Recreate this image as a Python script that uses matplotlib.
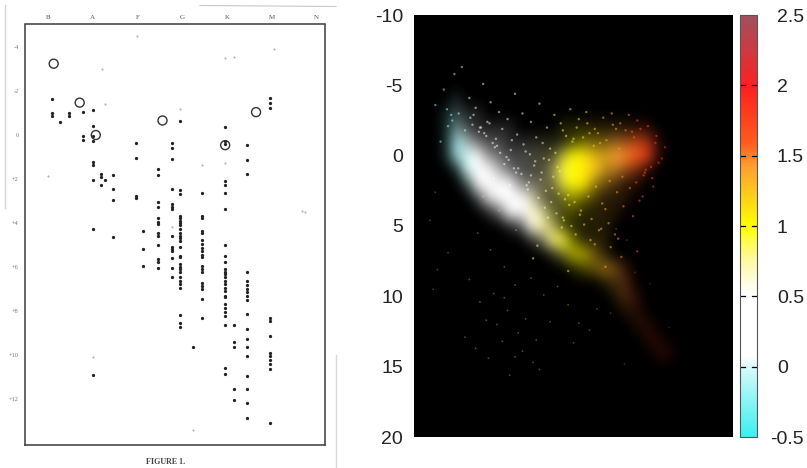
import matplotlib
matplotlib.use("Agg")
from matplotlib import pyplot as plt
from matplotlib.colors import LinearSegmentedColormap, Normalize
from matplotlib.cm import ScalarMappable
from matplotlib.lines import Line2D
import numpy as np

# Left panel: Russell's diagram, stars by spectral class column
class_labels = ["B", "A", "F", "G", "K", "M", "N"]
mag_ticks = [-4, -2, 0, 2, 4, 6, 8, 10, 12]
mag_labels = ["-4", "-2", "0", "+2", "+4", "+6", "+8", "+10", "+12"]

column_class = [0.10, 0.28, 0.48, 0.78, 1.00, 1.18, 1.28, 1.46, 1.97, 2.13, 2.46,
                2.77, 2.96, 3.25, 3.45, 3.96, 4.15, 4.45, 4.96]
column_mags = [
    [-1.63, -0.96, -0.86],
    [-0.58],
    [-1.0, -0.86],
    [-1.04, 0.05, 0.23],
    [-1.11, -0.39, 0.05, 0.3, 1.23, 1.36, 2.05, 4.31, 10.9],
    [1.77, 1.92, 2.27],
    [2.07],
    [1.84, 2.48, 2.98, 4.67],
    [0.4, 1.08, 2.78, 2.9],
    [4.39, 5.19, 5.96],
    [1.58, 1.84, 3.08, 3.31, 3.77, 3.96, 4.07, 4.46, 4.6, 5.02, 5.66, 5.78, 6.07],
    [0.4, 0.61, 1.1, 2.49, 3.17, 3.28, 3.4, 4.6, 5.1, 5.2, 5.31, 5.61, 6.07, 6.46],
    [-0.63, 2.52, 2.72, 3.7, 3.81, 3.92, 4.01, 4.11, 4.31, 4.49, 4.6, 4.7, 4.83, 5.1,
     5.51, 5.58, 5.89, 6.01, 6.12, 6.22, 6.49, 6.65, 6.8, 6.95, 8.19, 8.54, 8.72],
    [9.67],
    [2.67, 3.7, 3.81, 4.37, 4.46, 4.8, 4.98, 5.16, 5.28, 5.46, 5.58, 5.96, 6.12, 6.22,
     6.72, 6.87, 7.02, 7.48, 8.34],
    [-0.33, 0.28, 0.43, 2.1, 2.3, 2.67, 3.4, 5.02, 5.51, 5.81, 6.12, 6.22, 6.34, 6.49,
     6.65, 6.8, 6.95, 7.1, 7.33, 7.4, 7.71, 7.89, 8.04, 8.23, 8.65, 10.58, 10.86],
    [8.65, 9.4, 9.65, 11.55, 12.05],
    [0.48, 1.16, 1.77, 6.22, 6.65, 6.83, 7.02, 7.17, 7.33, 7.52, 8.13, 8.83, 9.27, 9.65,
     10.04, 10.98, 11.57, 12.18, 12.87],
    [-1.64, -1.42, -1.19, 8.34, 8.49, 9.17, 9.9, 10.05, 10.25, 10.43, 10.63, 13.08],
]
faint_class = [1.98, 3.96, 4.16, 5.04, 1.2, 1.28, 2.96, 3.45, 3.96, 2.77, 0.0, 1.0, 3.25, 5.68, 5.75]
faint_mag = [-4.48, -3.46, -3.54, -3.87, -2.98, -1.39, -1.16, 1.39, 1.31, 4.2, 1.9, 10.1, 13.4, 3.46, 3.5]
open_class = [0.13, 0.71, 1.07, 2.56, 3.96, 4.65]
open_mag = [-3.22, -1.45, 0.02, -0.64, 0.48, -1.02]

# Right panel: star density, 0-9, rows by magnitude, columns by B-V
bv_values = [-0.4, -0.3, -0.2, -0.1, 0.0, 0.1, 0.2, 0.3, 0.4, 0.5, 0.6, 0.7, 0.8, 0.9,
             1.0, 1.1, 1.2, 1.3, 1.4, 1.5, 1.6, 1.7, 1.8, 1.9, 2.0, 2.1, 2.2]
mag_rows = [-5, -4, -3, -2, -1, 0, 1, 2, 3, 4, 5, 6, 7, 8, 9, 10, 11, 12, 13, 14, 15]
density = [
    [0, 0, 0, 0, 0, 0, 0, 0, 0, 0, 0, 0, 0, 0, 0, 0, 0, 0, 0, 0, 0, 0, 0, 0, 0, 0, 0],
    [0, 0, 0, 1, 0, 0, 0, 0, 0, 0, 0, 0, 0, 0, 0, 0, 0, 0, 0, 0, 0, 0, 0, 0, 0, 0, 0],
    [0, 0, 1, 2, 1, 1, 0, 0, 0, 0, 0, 0, 0, 0, 0, 0, 0, 0, 0, 0, 0, 0, 0, 0, 0, 0, 0],
    [0, 0, 1, 4, 2, 1, 1, 1, 1, 0, 0, 0, 0, 1, 1, 1, 1, 1, 1, 1, 1, 1, 0, 0, 0, 0, 0],
    [0, 0, 1, 6, 5, 3, 2, 2, 1, 1, 1, 1, 1, 1, 2, 3, 3, 3, 4, 4, 5, 4, 1, 0, 0, 0, 0],
    [0, 0, 1, 6, 8, 7, 4, 3, 2, 2, 2, 2, 2, 5, 8, 7, 6, 6, 7, 8, 9, 6, 1, 0, 0, 0, 0],
    [0, 0, 0, 1, 7, 9, 9, 5, 3, 2, 2, 2, 4, 9, 9, 9, 7, 5, 5, 4, 3, 1, 0, 0, 0, 0, 0],
    [0, 0, 0, 0, 2, 7, 9, 9, 7, 4, 3, 3, 3, 6, 8, 7, 4, 3, 2, 1, 1, 0, 0, 0, 0, 0, 0],
    [0, 0, 0, 0, 0, 2, 6, 9, 9, 9, 6, 3, 2, 3, 4, 3, 2, 1, 1, 1, 0, 0, 0, 0, 0, 0, 0],
    [0, 0, 0, 0, 0, 0, 1, 3, 9, 9, 9, 6, 3, 2, 2, 1, 1, 1, 1, 0, 0, 0, 0, 0, 0, 0, 0],
    [0, 0, 0, 0, 0, 0, 0, 0, 1, 2, 8, 9, 5, 2, 1, 1, 1, 1, 0, 0, 0, 0, 0, 0, 0, 0, 0],
    [0, 0, 0, 0, 0, 0, 0, 0, 0, 0, 1, 3, 7, 7, 3, 1, 1, 1, 0, 0, 0, 0, 0, 0, 0, 0, 0],
    [0, 0, 0, 0, 0, 0, 0, 0, 0, 0, 0, 0, 1, 3, 5, 5, 3, 1, 0, 0, 0, 0, 0, 0, 0, 0, 0],
    [0, 0, 0, 0, 0, 0, 0, 0, 0, 0, 0, 0, 0, 0, 1, 2, 3, 4, 3, 1, 0, 0, 0, 0, 0, 0, 0],
    [0, 0, 0, 0, 0, 0, 0, 0, 0, 0, 0, 0, 0, 0, 0, 0, 0, 1, 2, 2, 0, 0, 0, 0, 0, 0, 0],
    [0, 0, 0, 0, 0, 0, 0, 0, 0, 0, 0, 0, 0, 0, 0, 0, 0, 0, 1, 2, 1, 0, 0, 0, 0, 0, 0],
    [0, 0, 0, 0, 0, 0, 0, 0, 0, 0, 0, 0, 0, 0, 0, 0, 0, 0, 0, 1, 1, 0, 0, 0, 0, 0, 0],
    [0, 0, 0, 0, 0, 0, 0, 0, 0, 0, 0, 0, 0, 0, 0, 0, 0, 0, 0, 0, 1, 1, 0, 0, 0, 0, 0],
    [0, 0, 0, 0, 0, 0, 0, 0, 0, 0, 0, 0, 0, 0, 0, 0, 0, 0, 0, 0, 0, 1, 1, 0, 0, 0, 0],
    [0, 0, 0, 0, 0, 0, 0, 0, 0, 0, 0, 0, 0, 0, 0, 0, 0, 0, 0, 0, 0, 0, 1, 1, 0, 0, 0],
    [0, 0, 0, 0, 0, 0, 0, 0, 0, 0, 0, 0, 0, 0, 0, 0, 0, 0, 0, 0, 0, 0, 0, 0, 0, 0, 0],
]

# Single stars in the haze around the main clumps
speck_bv = [-0.3, -0.22, -0.12, -0.05, 0.02, 0.08, 0.15, 0.22, 0.3, 0.38, 0.45, 0.52, 0.6,
            0.68, 0.75, 0.82, 0.9, 0.97, 1.05, 1.12, 1.2, 1.28, 1.36, 1.44, 1.52, 1.6,
            1.7, 1.78, 1.86, -0.25, -0.15, 0.05, 0.18, 0.28, 0.42, 0.55, 0.65, 0.78,
            0.88, 1.0, 1.15, 1.25, 1.4, 1.55, 1.68, 1.8, 0.35, 0.48, 0.6, 0.72, 0.85,
            0.25, 0.4, 0.58, 0.7, 0.8, 0.95, 0.66, 0.9, 1.1, 1.3, 0.62, 0.95, 1.2,
            1.42, 1.62, 1.75, 1.3, 1.45, 1.6, -0.18, 0.03, 0.11, 0.19, 0.27, 0.33,
            0.41, 0.47, 0.53, 0.59, 0.63, 0.71, 0.77, 0.83, 0.87, 0.93, 0.99, 1.03,
            1.09, 1.13, 1.19, 1.23, 1.31, 1.37, 1.43, 1.49, 1.57, 1.63, 1.67, 1.73,
            1.77, 1.83, 0.12, 0.24, 0.37, 0.44, 0.51, 0.57, 0.64, 0.69, 0.74, 0.81,
            0.86, 0.92, 0.96, 1.01, 1.07, 1.14, 1.21, 1.27, 1.34, 1.41, 1.46, 1.53,
            1.59, 1.66, 1.74, 0.31, 0.39, 0.46, 0.56, 0.67, 0.73, 0.79, 0.84, 0.91,
            0.98, 1.06, 1.17, 1.24, 1.33, 1.39, 1.47, 1.56, 1.65, 0.16, 0.21, 0.26,
            -0.08, -0.14, -0.19, -0.02, 0.06, 0.13, 0.76, 0.89, 1.02, 1.16, 1.26, 1.35]
speck_mag = [-3.6, -4.7, -5.8, -6.3, -4.1, -3.4, -5.1, -3.8, -3.1, -2.6, -4.4, -3.0, -2.4,
             -3.7, -2.0, -2.9, -1.8, -3.3, -2.6, -3.1, -1.9, -2.7, -3.0, -2.3, -2.9, -2.5,
             -2.1, -1.4, -0.6, -1.0, -2.9, -2.2, -1.4, -0.7, -1.1, -0.3, -1.3, -0.5,
             -2.3, -1.2, -1.6, -0.9, -1.9, -1.7, 1.0, 0.5, 0.6, 0.9, 1.4, 0.2, 0.8,
             1.6, 2.1, 1.9, 1.2, 2.3, 2.8, 6.4, 4.4, 4.9, 3.8, 7.3, 8.2, 6.3,
             5.9, 3.2, 2.2, 7.9, 7.2, 6.8, -2.1, -2.7, -1.7, -2.4, -1.2, -1.9,
             -0.4, -1.5, -0.8, -0.1, 0.7, -0.9, 0.3, -0.2, 1.1, -1.4, -1.0, -2.0,
             -1.3, -2.3, -0.7, -1.6, -1.1, -2.2, -0.5, -1.8, -1.3, -1.9, 1.2, 0.8,
             -0.9, 0.2, -2.0, -0.9, 0.1, 0.9, 1.3, 2.4, 0.4, 1.7, 2.5, 1.5,
             2.7, 3.1, 3.5, 3.3, 3.9, 2.9, 2.2, 3.4, 1.8, 2.6, 1.5, 2.3,
             1.9, 1.4, 1.6, -0.2, 0.3, 1.2, 2.1, 3.0, 3.7, 3.3, 4.1, 4.6,
             5.0, 4.2, 4.5, 5.3, 4.8, 5.6, 3.6, 4.3, 2.9, -1.6, -2.3, -0.6,
             -3.0, -2.5, -3.3, -1.8, -2.9, -2.0, 4.4, 5.1, 5.6, 6.0, 5.2, 6.5]

# Dim stars below the main sequence
dim_bv = [-0.35, -0.3, -0.28, -0.18, -0.32, 0.1, 0.22, 0.35, 0.45, 0.6, 0.72, 0.85,
          -0.02, 0.08, 0.2, 0.33, 0.45, 0.52, 0.62, 0.48, 0.55, 0.38, 0.28, 0.68,
          0.15, 0.3, 0.46, 0.95, 1.05, 1.4, 1.5, 1.58, 0.02, 0.12, 0.25, 0.18, 0.35,
          1.15, 1.35, 0.65, 0.4, 0.78, 1.0, 1.22, 1.48, 1.72, 1.9]
dim_mag = [4.6, 2.6, 8.1, 6.9, 9.5, 5.5, 6.7, 7.9, 9.2, 8.7, 9.9, 9.3,
           12.9, 13.7, 14.4, 13.2, 14.3, 13.9, 14.7, 12.6, 11.6, 11.0, 12.0, 15.2,
           2.9, 3.9, 5.3, 10.6, 11.9, 5.2, 6.0, 8.3, 8.8, 10.4, 9.8, 11.7, 10.1,
           12.4, 11.2, 13.1, 15.6, 11.8, 13.3, 10.9, 14.8, 9.1, 12.2]

cbar_ticks = [-0.5, 0, 0.5, 1, 1.5, 2, 2.5]
cbar_labels = ["-0.5", "0", "0.5", "1", "1.5", "2", "2.5"]
right_mag_ticks = [-10, -5, 0, 5, 10, 15, 20]

W, H = 807.0, 468.0


def box(x0, y0, x1, y1):
    return [x0 / W, 1 - y1 / H, (x1 - x0) / W, (y1 - y0) / H]


plt.rcParams["font.family"] = ["Liberation Sans", "DejaVu Sans"]
fig = plt.figure(figsize=(8.07, 4.68), dpi=100, facecolor="white")

# Left panel
ax1 = fig.add_axes(box(25.5, 24.5, 325, 445))
ax1.set_xlim(-0.5, 6.19)
ax1.set_ylim(14.1, -5.0)
for col_x, mags in zip(column_class, column_mags):
    ax1.scatter([col_x] * len(mags), mags, s=5.5, color="#222222", linewidths=0, zorder=3)
ax1.scatter(faint_class, faint_mag, s=2.5, color="#b5b5b5", linewidths=0)
ax1.scatter(open_class, open_mag, s=42, facecolors="none", edgecolors="#333333", linewidths=1.0, zorder=4)
ax1.set_xticks(range(len(class_labels)))
ax1.set_xticklabels(class_labels, fontsize=5, color="#555555", family=["Liberation Serif"])
ax1.set_yticks(mag_ticks)
ax1.set_yticklabels(mag_labels, fontsize=4.5, color="#777777", family=["Liberation Serif"])
ax1.tick_params(axis="x", top=False, bottom=False, labeltop=True, labelbottom=False, pad=0)
ax1.tick_params(axis="y", left=False, pad=1.5)
for side in ax1.spines:
    ax1.spines[side].set_linewidth(1.1)
    ax1.spines[side].set_color("#3a3a3a")
fig.text(165.5 / W, 1 - 462.5 / H, "FIGURE 1.", fontsize=5.8, color="#444444",
         family=["Liberation Serif"], weight="bold", ha="center", va="center")

# scan edges of the reproduced page
fig.add_artist(Line2D([4.5 / W, 4.5 / W], [1 - 5 / H, 1 - 208 / H], color="#d5d5d5", lw=1.0))
fig.add_artist(Line2D([200 / W, 336 / W], [1 - 5.5 / H, 1 - 6.5 / H], color="#c8c8c8", lw=0.8))
fig.add_artist(Line2D([335.5 / W, 335.5 / W], [1 - 355 / H, 0], color="#d8d8d8", lw=1.0))

# Right panel
colors = ["#3af0f0", "#d8fafa", "#ffffff", "#ffffff", "#fff8a0", "#ffff00", "#ffa030",
          "#ff5a1c", "#ff2020", "#a05060"]
stops = [0.0, 0.165, 0.19, 0.34, 0.42, 0.5, 0.64, 0.70, 0.83, 1.0]
star_cmap = LinearSegmentedColormap.from_list("stars", list(zip(stops, colors)))
norm = Normalize(-0.5, 2.5)

ax2 = fig.add_axes(box(414, 15, 733, 437))
ax2.set_facecolor("black")
dens = np.array(density, dtype=float)
rgba = star_cmap(norm(np.array(bv_values)))[np.newaxis, :, :].repeat(len(mag_rows), axis=0)
rgba[:, :, 3] = np.clip(dens / 7.0, 0, 1)
ax2.imshow(rgba, extent=[-0.45, 2.25, 15.5, -5.5], aspect="auto", interpolation="bicubic")
ax2.scatter(speck_bv, speck_mag, c=speck_bv, cmap=star_cmap, norm=norm, s=3, alpha=0.5, linewidths=0)
ax2.scatter(dim_bv, dim_mag, c=dim_bv, cmap=star_cmap, norm=norm, s=1.8, alpha=0.28, linewidths=0)
ax2.set_xlim(-0.5, 2.5)
ax2.set_ylim(20, -10)
ax2.set_xticks([])
ax2.set_yticks(right_mag_ticks)
ax2.set_yticklabels([str(t) for t in right_mag_ticks], fontsize=14, color="#222222")
ax2.tick_params(axis="y", length=0, pad=8)
for side in ax2.spines:
    ax2.spines[side].set_visible(False)

# Colour bar
cax = fig.add_axes(box(740, 15, 757, 437))
cbar = fig.colorbar(ScalarMappable(norm=norm, cmap=star_cmap), cax=cax)
cbar.set_ticks(cbar_ticks)
cbar.set_ticklabels(cbar_labels)
cax.tick_params(axis="y", length=0, pad=14.4, labelsize=14, labelcolor="#222222")
cax.get_yticklabels()[0].set_x(0.62)
cbar.outline.set_edgecolor("#555555")
cbar.outline.set_linewidth(0.8)
for t in cbar_ticks[1:-1]:
    cax.plot([0, 0.32], [t, t], color="black", lw=0.9, transform=cax.get_yaxis_transform())
    cax.plot([0.68, 1], [t, t], color="black", lw=0.9, transform=cax.get_yaxis_transform())

fig.savefig("out.png", dpi=100)
